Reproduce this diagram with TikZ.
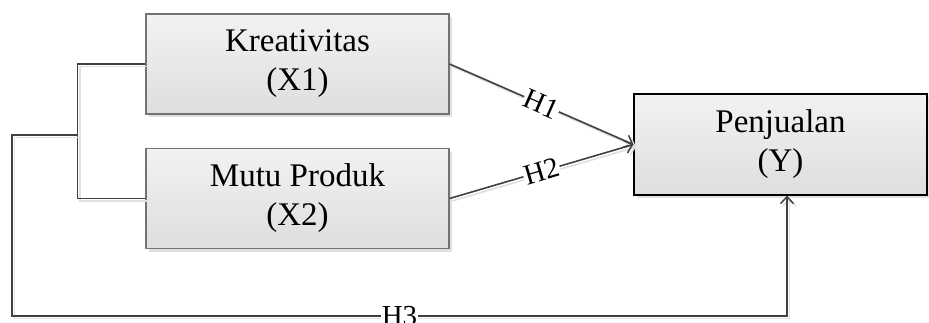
\documentclass[tikz,border=0pt]{standalone}
\usepackage{fontspec}
\setmainfont{Liberation Serif}
\usetikzlibrary{arrows.meta,shadows}
\definecolor{linec}{HTML}{404040}
\definecolor{boxtop}{HTML}{F2F2F2}
\definecolor{boxbot}{HTML}{DEDEDE}
\tikzset{
  varbox/.style={draw=#1, line width=1.2pt, top color=boxtop, bottom color=boxbot,
    minimum width=303pt, minimum height=100pt, inner sep=0pt, align=center,
    font=\fontsize{33}{39}\selectfont,
    drop shadow={shadow xshift=3pt, shadow yshift=-3pt, fill=black!12, opacity=1}},
  conn/.style={draw=linec, line width=1.6pt,
    preaction={draw=black!12, line width=1.6pt, transform canvas={shift={(2.5pt,-2.5pt)}}}},
  arr/.style={-{Straight Barb[length=7pt,width=13pt,line width=1.5pt]}},
  lab/.style={fill=white, inner sep=1pt, font=\fontsize{29}{31}\selectfont},
}
\begin{document}
\begin{tikzpicture}[x=1pt,y=-1pt]
\useasboundingbox (0,0) rectangle (929,322);
\node[varbox=black!55] (x1) at (297.5,64) {Kreativitas\\(X1)};
\node[varbox=black!55] (x2) at (297.5,198.5) {Mutu Produk\\(X2)};
\node[varbox=black, minimum width=293pt, minimum height=101pt] (yy) at (780.5,144.5) {Penjualan\\(Y)};
\coordinate (j) at (78,135);
\coordinate (c1) at (12,135);
\coordinate (c2) at (787,316);
\coordinate (yin) at ([xshift=6.5pt]yy.south);
\draw[conn] (x1.west) -- ++(-68,0) |- (x2.west);
\draw[conn,arr] (x1.east) -- node[lab,sloped]{H1} (yy.west);
\draw[conn,arr] (x2.east) -- node[lab,sloped]{H2} (yy.west);
\draw[conn,arr] (j) -- (c1) |- node[lab,pos=0.75]{H3} (c2) -- (yin);
\end{tikzpicture}
\end{document}
